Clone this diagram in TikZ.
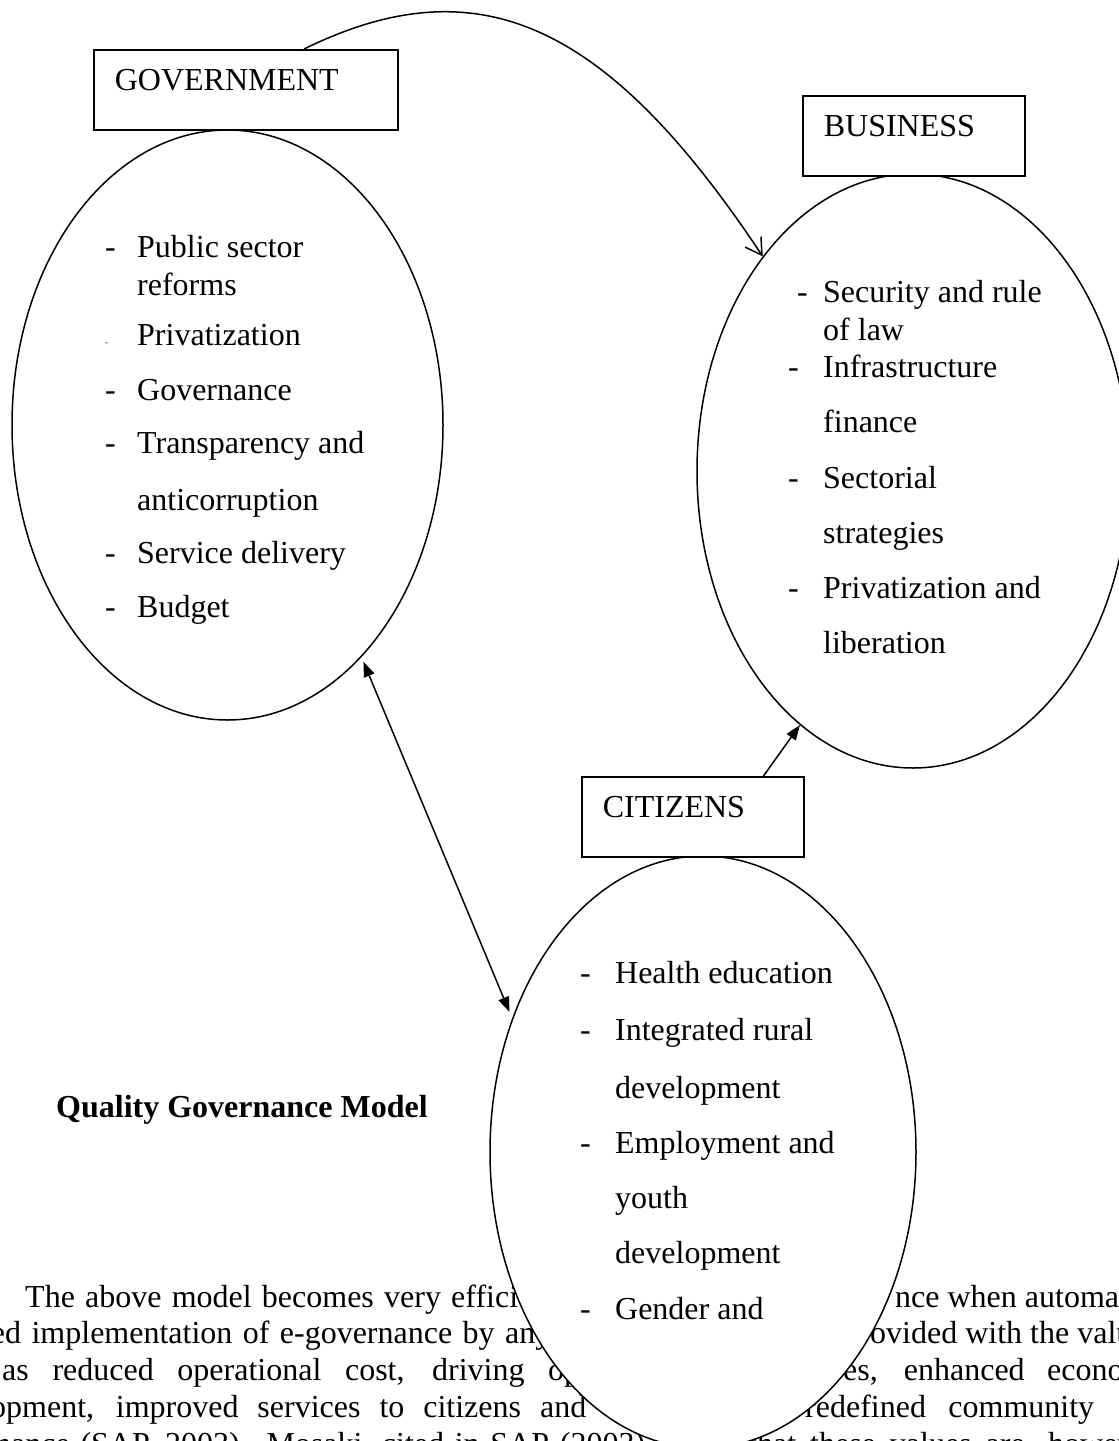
\documentclass[tikz,border=0pt]{standalone}
\usepackage{fontspec}
\setmainfont{Liberation Serif}
\usetikzlibrary{shapes.geometric,arrows.meta}

\begin{document}
\begin{tikzpicture}[x=1pt,y=-1pt]
  \tikzstyle{every node}=[font=\fontsize{32}{38}\selectfont, inner sep=0pt]
  \tikzstyle{oval}=[ellipse, draw, fill=white, line width=1.5pt]
  \tikzstyle{boxed}=[rectangle, draw, fill=white, line width=1.6pt, anchor=north west, align=left, inner xsep=21pt, text height=41pt, text depth=39pt]
  \tikzstyle{para}=[anchor=base west]
  \tikzstyle{items}=[anchor=base west, align=left]
  \tikzstyle{link}=[line width=1.5pt]
  \useasboundingbox (0,0) rectangle (1119,1441);
  \clip (0,0) rectangle (1119,1441);
  % running text behind the model
  \node[para] (p1a) at (25,1307) {\makebox[532pt][s]{The above model becomes very efficient}};
  \node[para] (p1b) at (895,1307) {nce when automation};
  \node[para] (p2a) at (5,1343) {\llap{e}\makebox[546pt][s]{d implementation of e-governance by any}};
  \node[para] (p2b) at (870,1343) {ovided with the values};
  \node[para] (p3a) at (2,1380) {\makebox[578pt][s]{as reduced operational cost, driving op}};
  \node[para] (p3b) at (843,1380) {\makebox[204pt][s]{es, enhanced \rlap{economic}}};
  \node[para] (p4a) at (-10,1417) {\makebox[596pt][s]{opment, improved services to citizens and}};
  \node[para] (p4b) at (805,1417) {\makebox[289pt][s]{redefined community}};
  \node[para] (p5a) at (-5,1454) {\makebox[650pt][s]{nance (SAP, 2003). Mosaki, cited in SAP (2003)}};
  \node[para] (p5b) at (748,1454) {\makebox[300pt][s]{that these values are, \rlap{however}}};
  % the three sectors
  \node[oval, minimum width=431pt, minimum height=590pt] (govoval) at (227.5,425) {};
  \node[oval, minimum width=432pt, minimum height=594pt] (bizoval) at (913,471) {};
  \node[oval, minimum width=426pt, minimum height=592pt] (citoval) at (703,1152) {};
  \node[items] (govlist) at (105,257) {\begin{tabular}[t]{@{}p{32pt}@{}l@{}}
    - & Public sector\\
      & reforms\\[12pt]
    {\fontsize{9}{9}\selectfont -} & Privatization\\[17pt]
    - & Governance\\[15pt]
    - & Transparency and\\[19pt]
      & anticorruption\\[15pt]
    - & Service delivery\\[16pt]
    - & Budget
  \end{tabular}};
  \node[items] (bizlist) at (788,302) {\begin{tabular}[t]{@{}p{35pt}@{}l@{}}
    \hspace*{9pt}- & Security and rule\\
      & of law\\[-1pt]
    - & Infrastructure\\[17pt]
      & finance\\[18pt]
    - & Sectorial\\[17pt]
      & strategies\\[17pt]
    - & Privatization and\\[17pt]
      & liberation
  \end{tabular}};
  \node[items] (citlist) at (580,983) {\begin{tabular}[t]{@{}p{35pt}@{}l@{}}
    - & Health education\\[19pt]
    - & Integrated rural\\[20pt]
      & development\\[17pt]
    - & Employment and\\[17pt]
      & youth\\[17pt]
      & development\\[18pt]
    - & Gender and
  \end{tabular}};
  \node[boxed, text width=262pt] (govbox) at (93,49) {GOVERNMENT};
  \node[boxed, text width=180pt] (bizbox) at (802,95) {BUSINESS};
  \node[boxed, text width=180pt] (citbox) at (581,776) {CITIZENS};
  \node[para, font=\fontsize{32}{38}\selectfont\bfseries] (title) at (56,1117) {Quality Governance Model};
  % links
  \draw[link, -{Straight Barb[length=16pt,width=19pt]}] (govbox.35) .. controls +(175,-86) and +(-155,-233) .. (bizoval.125);
  \draw[link, {Triangle[length=15pt,width=11pt]}-{Triangle[length=15pt,width=11pt]}, shorten <=5pt, shorten >=7pt] (govoval.-60) -- (citoval.145);
  \draw[link, -{Triangle[length=15pt,width=11pt]}] (citbox.30) -- (bizoval.-114);
\end{tikzpicture}
\end{document}
